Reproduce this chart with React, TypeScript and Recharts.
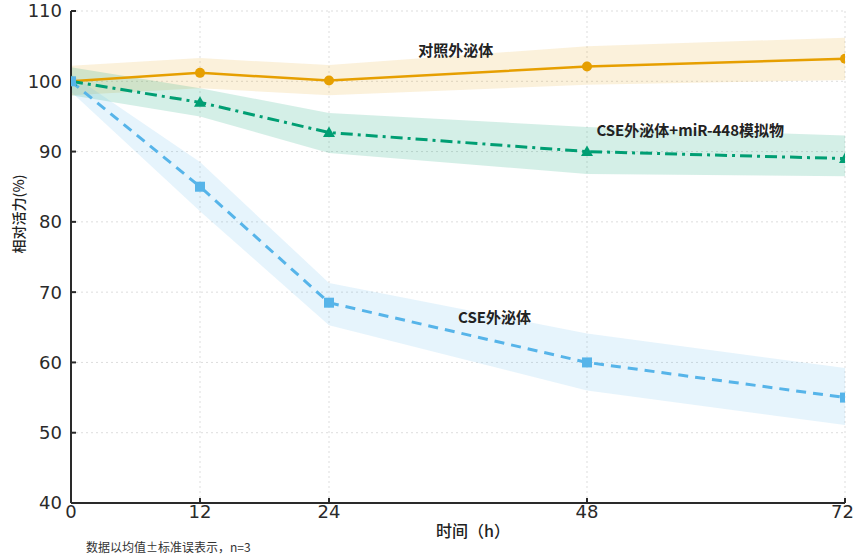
import React from 'react'
import {
  ComposedChart,
  Area,
  Line,
  XAxis,
  YAxis,
  CartesianGrid,
  ReferenceDot,
  Label,
} from 'recharts'

const HOURS = [0, 12, 24, 48, 72]
const X_TICKS = [0, 12, 24, 48, 72]
const Y_TICKS = [40, 50, 60, 70, 80, 90, 100, 110]

// 对照外泌体
const CTRL = [100, 101.2, 100.1, 102.1, 103.2]
const CTRL_LO = [98, 99, 98, 99.5, 100.2]
const CTRL_HI = [102.2, 103.3, 102.3, 105, 106.2]

// CSE外泌体+miR-448模拟物
const MIMIC = [100, 97, 92.7, 90, 89]
const MIMIC_LO = [98, 95, 89.8, 86.8, 86.5]
const MIMIC_HI = [102, 99, 95.5, 93.5, 92.3]

// CSE外泌体
const CSE = [100, 85, 68.5, 60, 55]
const CSE_LO = [98.5, 81.5, 65.3, 56, 51.1]
const CSE_HI = [101, 88.5, 71.3, 64.1, 59.2]

const ORANGE = '#E69F00'
const GREEN = '#009E73'
const BLUE = '#56B4E9'
const AXIS = '#2a2a2a'
const FONT = 'DejaVu Sans, sans-serif'
const CJK = 'Noto Sans CJK SC, sans-serif'

const data = HOURS.map((h, i) => ({
  h,
  ctrl: CTRL[i],
  ctrlBand: [CTRL_LO[i], CTRL_HI[i]],
  mimic: MIMIC[i],
  mimicBand: [MIMIC_LO[i], MIMIC_HI[i]],
  cse: CSE[i],
  cseBand: [CSE_LO[i], CSE_HI[i]],
}))

const circleDot = (p: any) => (
  <circle key={`c-${p.index}`} cx={p.cx} cy={p.cy} r={5} fill={ORANGE} />
)

const triangleDot = (p: any) => (
  <path
    key={`t-${p.index}`}
    d={`M${p.cx},${p.cy - 6} L${p.cx + 6},${p.cy + 4.5} L${p.cx - 6},${p.cy + 4.5} Z`}
    fill={GREEN}
  />
)

const squareDot = (p: any) => (
  <rect key={`s-${p.index}`} x={p.cx - 5} y={p.cy - 5} width={10} height={10} fill={BLUE} />
)

const annot = (value: string) => ({
  value,
  position: 'center' as const,
  fill: '#222',
  fontSize: 15,
  fontWeight: 600,
  fontFamily: CJK,
})

export default function App() {
  return (
    <div style={{ position: 'absolute', left: 0, top: 0, width: 854, height: 555, background: '#fff' }}>
      <ComposedChart
        width={854}
        height={555}
        data={data}
        margin={{ top: 11, right: 9, bottom: 14, left: 0 }}
      >
        <CartesianGrid stroke="#dddddd" strokeDasharray="2 3" />
        <XAxis
          dataKey="h"
          type="number"
          domain={[0, 72]}
          ticks={X_TICKS}
          allowDataOverflow
          height={38}
          stroke={AXIS}
          strokeWidth={2}
          tickSize={-5}
          tickMargin={7}
          tick={{ fill: '#2a2a2a', fontSize: 18, fontFamily: FONT, style: { fontFamily: FONT } }}
        >
          <Label
            content={({ viewBox }: any) => (
              <text
                x={viewBox.x + viewBox.width / 2 + 15}
                y={viewBox.y + 30}
                textAnchor="middle"
                dominantBaseline="middle"
                fontSize={16}
                fontWeight={500}
                fontFamily={CJK}
                fill="#222"
              >
                时间（h）
              </text>
            )}
          />
        </XAxis>
        <YAxis
          type="number"
          domain={[40, 110]}
          ticks={Y_TICKS}
          allowDataOverflow
          width={71}
          stroke={AXIS}
          strokeWidth={2}
          tickSize={-5}
          tickMargin={14}
          tick={{ fill: '#2a2a2a', fontSize: 18, fontFamily: FONT, style: { fontFamily: FONT } }}
        >
          <Label
            content={() => (
              <text
                x={20}
                y={214}
                transform={`rotate(-90, 20, 214)`}
                textAnchor="middle"
                dominantBaseline="middle"
                fontSize={14}
                fontWeight={500}
                fontFamily={CJK}
                fill="#222"
              >
                相对活力(%)
              </text>
            )}
          />
        </YAxis>

        <Area
          dataKey="ctrlBand"
          type="linear"
          stroke="none"
          fill={ORANGE}
          fillOpacity={0.14}
          isAnimationActive={false}
        />
        <Area
          dataKey="mimicBand"
          type="linear"
          stroke="none"
          fill={GREEN}
          fillOpacity={0.17}
          isAnimationActive={false}
        />
        <Area
          dataKey="cseBand"
          type="linear"
          stroke="none"
          fill={BLUE}
          fillOpacity={0.15}
          isAnimationActive={false}
        />

        <Line
          dataKey="ctrl"
          type="linear"
          stroke={ORANGE}
          strokeWidth={2.5}
          dot={circleDot}
          activeDot={false}
          isAnimationActive={false}
        />
        <Line
          dataKey="mimic"
          type="linear"
          stroke={GREEN}
          strokeWidth={3}
          strokeDasharray="12 5 3 5"
          dot={triangleDot}
          activeDot={false}
          isAnimationActive={false}
        />
        <Line
          dataKey="cse"
          type="linear"
          stroke={BLUE}
          strokeWidth={3}
          strokeDasharray="10 7"
          dot={squareDot}
          activeDot={false}
          isAnimationActive={false}
        />

        <ReferenceDot x={35.8} y={104.4} r={0} stroke="none" label={annot('对照外泌体')} />
        <ReferenceDot x={57.6} y={93} r={0} stroke="none" label={annot('CSE外泌体+miR-448模拟物')} />
        <ReferenceDot x={39.4} y={66.3} r={0} stroke="none" label={annot('CSE外泌体')} />
      </ComposedChart>
      <div
        style={{
          position: 'absolute',
          left: 86,
          top: 540,
          fontSize: 12,
          fontFamily: CJK,
          color: '#333',
          whiteSpace: 'nowrap',
          lineHeight: '14px',
        }}
      >
        数据以均值±标准误表示，n=3
      </div>
    </div>
  )
}
